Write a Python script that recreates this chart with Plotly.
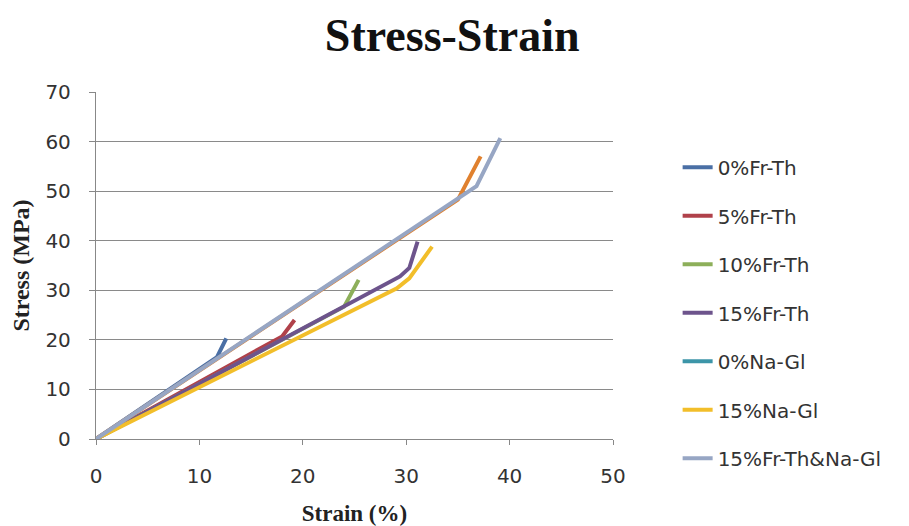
import plotly.graph_objects as go

# Data (Strain %, Stress MPa)
fr0_x = [0, 11.7, 12.6]
fr0_y = [0, 16.5, 20.3]
fr5_x = [0, 18.0, 19.2]
fr5_y = [0, 20.7, 24.0]
fr10_x = [0, 24.0, 25.4]
fr10_y = [0, 26.7, 32.1]
fr15_x = [0, 29.4, 30.3, 31.1]
fr15_y = [0, 32.8, 34.5, 39.8]
na0_x = [0, 35.0, 37.2]
na0_y = [0, 48.3, 57.0]
na15_x = [0, 29.1, 30.3, 32.5]
na15_y = [0, 30.4, 32.4, 38.8]
mix_x = [0, 35.0, 36.8, 39.1]
mix_y = [0, 48.5, 51.0, 60.7]

names = ["0%Fr-Th", "5%Fr-Th", "10%Fr-Th", "15%Fr-Th", "0%Na-Gl", "15%Na-Gl", "15%Fr-Th&Na-Gl"]
colors = ["#4A6FA5", "#B0414A", "#8DAF5A", "#6D548C", "#3C95A8", "#F2BE2A", "#97A6C4"]
orange = "#E0812F"

x_ticks = [0, 10, 20, 30, 40, 50]
y_ticks = [0, 10, 20, 30, 40, 50, 60, 70]

fig = go.Figure()
W = 4

def add(x, y, name, color, rank, show=True):
    fig.add_trace(go.Scatter(x=x, y=y, mode="lines", name=name,
                             line=dict(color=color, width=W),
                             legendgroup=name, legendrank=rank, showlegend=show))

add(fr0_x, fr0_y, names[0], colors[0], 1)
add(fr5_x, fr5_y, names[1], colors[1], 2)
add(fr10_x, fr10_y, names[2], colors[2], 3)
add(fr15_x, fr15_y, names[3], colors[3], 4)
# 0%Na-Gl drawn in orange in the plot; legend swatch is teal
add(na0_x, na0_y, names[4], orange, 5, show=False)
fig.add_trace(go.Scatter(x=[None], y=[None], mode="lines", name=names[4],
                         line=dict(color=colors[4], width=W),
                         legendgroup=names[4], legendrank=5))
add(na15_x, na15_y, names[5], colors[5], 6)
add(mix_x, mix_y, names[6], colors[6], 7)

fig.update_layout(
    width=901, height=518,
    paper_bgcolor="white", plot_bgcolor="white",
    margin=dict(l=88, r=296, t=84, b=87),
    title=dict(text="<b>Stress-Strain</b>", x=0.493, xanchor="center", y=0.948, yanchor="middle",
               font=dict(family="Liberation Serif", size=46, color="#111")),
    xaxis=dict(range=[0, 50], tickvals=x_ticks, showgrid=False, zeroline=False, automargin=False,
               showline=True, linecolor="#888", linewidth=1.3,
               ticks="outside", ticklen=5, tickcolor="#888", ticklabelstandoff=14,
               tickfont=dict(family="DejaVu Sans", size=20, color="#333"),
               title=dict(text="<b>Strain (%)</b>", standoff=20,
                          font=dict(family="Liberation Serif", size=23, color="#222"))),
    yaxis=dict(range=[0, 70], tickvals=y_ticks, showgrid=True, gridcolor="#8a8a8a", gridwidth=1.3,
               zeroline=False, showline=True, linecolor="#888", linewidth=1.3, automargin=False,
               ticks="outside", ticklen=6, tickcolor="#888", ticklabelstandoff=14,
               tickfont=dict(family="DejaVu Sans", size=20, color="#333"),
               title=dict(text="<b>Stress (MPa)</b>", standoff=12,
                          font=dict(family="Liberation Serif", size=24, color="#222"))),
    legend=dict(x=1.125, xanchor="left", y=0.839, yanchor="top",
                font=dict(family="DejaVu Sans", size=20, color="#333"),
                tracegroupgap=19.5, bgcolor="rgba(0,0,0,0)", maxheight=450),
    showlegend=True,
)

fig.write_html("out.html")
